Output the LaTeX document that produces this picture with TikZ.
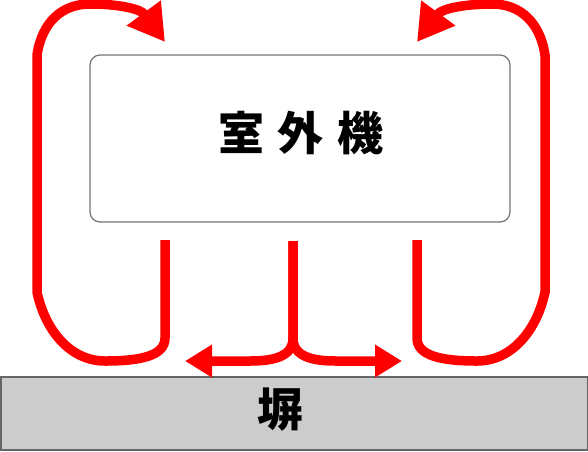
\documentclass[tikz,border=0pt]{standalone}
\usepackage{fontspec}
\newfontfamily\jp{Noto Sans CJK JP}
\usetikzlibrary{arrows.meta,positioning,calc}

\begin{document}
\begin{tikzpicture}[
    x=1pt, y=-1pt,
    unitbox/.style={rectangle, rounded corners=10pt, draw=black!55, line width=1.2pt, minimum width=420pt, minimum height=167pt},
    wallbox/.style={rectangle, draw=black!60, fill=black!20, line width=1.5pt, minimum width=586.5pt, minimum height=73pt},
    label/.style={font=\jp\bfseries\fontsize{46}{46}\selectfont, inner sep=0pt},
    flow/.style={draw=red, line width=9.5pt},
    loopend/.style={-{Triangle[length=36pt,width=40pt]}},
    sideend/.style={-{Triangle[length=27pt,width=31pt]}}
]
\useasboundingbox (0,0) rectangle (588,451);

% Outdoor unit and wall
\node[unitbox] (unit) at (300,138.5) {};
\node[label] (unitlabel) at (301,133) {室\hspace{14pt}外\hspace{14pt}機};
\node[wallbox] (wall) at (294,413.5) {};
\node[label] (walllabel) at (280,410) {塀};

% Air outlets under the unit
\coordinate (outL) at (165,240);
\coordinate (outM) at (293,241);
\coordinate (outR) at (417,240);

% Ends of the flows
\coordinate (inL) at (165,42);
\coordinate (inR) at (417,42);
\coordinate (sideL) at (185,361);
\coordinate (sideR) at (402,361);

% Left loop
\draw[flow, loopend] (outL) -- (165,338) .. controls (165,356) and (140,361) .. (105,361)
    .. controls (70,361) and (45,330) .. (37,292) -- (37,55)
    .. controls (42,22) and (62,4) .. (90,4) .. controls (115,4) and (140,8) .. (inL);

% Right loop
\draw[flow, loopend] (outR) -- (417,338) .. controls (417,356) and (442,361) .. (477,361)
    .. controls (512,361) and (537,330) .. (545,292) -- (545,55)
    .. controls (540,22) and (520,4) .. (492,4) .. controls (467,4) and (442,8) .. (inR);

% Middle flow along the wall
\draw[flow, sideend] (outM) -- (293,338) .. controls (293,356) and (275,361) .. (250,361) -- (sideL);
\draw[flow, sideend] (outM) -- (293,338) .. controls (293,356) and (311,361) .. (336,361) -- (sideR);

\end{tikzpicture}
\end{document}
